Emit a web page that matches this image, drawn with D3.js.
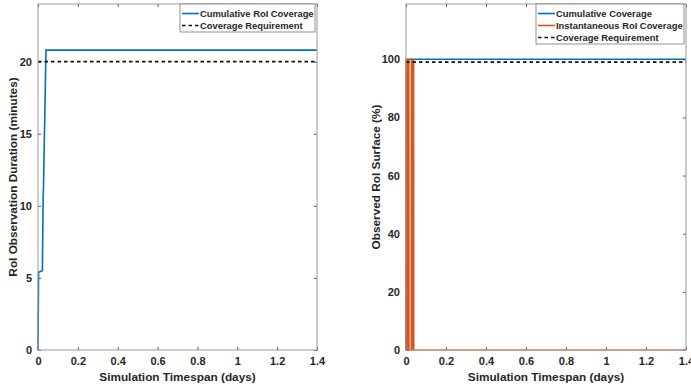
<!DOCTYPE html>
<html>
<head>
<meta charset="utf-8">
<script src="https://cdn.jsdelivr.net/npm/d3@7"></script>
<style>
  body { margin: 0; background: #fff; }
  text { font-family: "Liberation Sans", Arial, sans-serif; font-weight: bold; fill: #262626; }
</style>
</head>
<body>
<div id="chart"></div>
<script>
// ---- data ----
var xTicks = [0, 0.2, 0.4, 0.6, 0.8, 1, 1.2, 1.4];
var leftYTicks = [0, 5, 10, 15, 20];
var rightYTicks = [0, 20, 40, 60, 80, 100];

// left: cumulative RoI observation (minutes)
var cumTime = [0, 0.003, 0.022, 0.026, 0.027, 0.040, 1.4];
var cumMinutes = [0, 5.4, 5.5, 10.8, 10.9, 20.8, 20.8];
var reqMinutes = 20;

// right: coverage (%)
var covTime = [0, 0.003, 1.4];
var covCumulative = [0, 100, 100];
var instTime = [0, 0.0005, 0.015, 0.0155, 0.0255, 0.026, 0.039, 0.0395, 1.4];
var instCoverage = [0, 100, 100, 0, 0, 100, 100, 0, 0];
var reqPercent = 99;

var blue = "#0072BD", orange = "#D95319";

var svg = d3.select("#chart").append("svg")
  .attr("width", 691)
  .attr("height", 389);

function zip(a, b) { return a.map(function(d, i) { return [d, b[i]]; }); }

function panel(opt) {
  var x = d3.scaleLinear().domain([0, 1.4]).range([opt.left, opt.right]);
  var y = d3.scaleLinear().domain([0, opt.ymax]).range([350, 4]);
  var g = svg.append("g");

  // bottom / top axes (ticks inside)
  g.append("g").attr("transform", "translate(0,350)")
    .call(d3.axisBottom(x).tickValues(xTicks).tickSize(-3).tickPadding(7).tickFormat(d3.format("")))
    .call(function(a) { a.select(".domain").remove(); a.selectAll("line").attr("stroke", "#555"); a.selectAll("text").style("font-size", "11px"); });
  g.append("g").attr("transform", "translate(0,4)")
    .call(d3.axisTop(x).tickValues(xTicks).tickSize(-3).tickFormat(""))
    .call(function(a) { a.select(".domain").remove(); a.selectAll("line").attr("stroke", "#555"); });
  g.append("g").attr("transform", "translate(" + opt.left + ",0)")
    .call(d3.axisLeft(y).tickValues(opt.yTicks).tickSize(-3).tickPadding(6))
    .call(function(a) { a.select(".domain").remove(); a.selectAll("line").attr("stroke", "#555"); a.selectAll("text").style("font-size", "11px"); });
  g.append("g").attr("transform", "translate(" + opt.right + ",0)")
    .call(d3.axisRight(y).tickValues(opt.yTicks).tickSize(-3).tickFormat(""))
    .call(function(a) { a.select(".domain").remove(); a.selectAll("line").attr("stroke", "#555"); });

  var line = d3.line().x(function(d) { return x(d[0]); }).y(function(d) { return y(d[1]); });

  opt.series.forEach(function(s) {
    if (s.fill) {
      g.append("path").datum(s.data)
        .attr("fill", s.color).attr("stroke", s.color).attr("stroke-width", 1.2)
        .attr("d", d3.area().x(function(d) { return x(d[0]); }).y0(y(0)).y1(function(d) { return y(d[1]); }));
    } else {
      g.append("path").datum(s.data)
        .attr("fill", "none").attr("stroke", s.color).attr("stroke-width", 1.6)
        .attr("stroke-dasharray", s.dash || null)
        .attr("d", line);
    }
  });

  // box
  g.append("rect").attr("x", opt.left).attr("y", 4)
    .attr("width", opt.right - opt.left).attr("height", 346)
    .attr("fill", "none").attr("stroke", "#9a9a9a").attr("stroke-width", 1);

  // labels
  g.append("text").attr("x", (opt.left + opt.right) / 2).attr("y", 381)
    .attr("text-anchor", "middle").style("font-size", "11.8px").text("Simulation Timespan (days)");
  g.append("text").attr("transform", "translate(" + opt.ylabX + ",177) rotate(-90)")
    .attr("text-anchor", "middle").style("font-size", "11.8px").text(opt.ylabel);

  // legend
  var L = opt.legend;
  var lg = g.append("g");
  lg.append("rect").attr("x", L.x).attr("y", 4).attr("width", opt.right - 2 - L.x)
    .attr("height", L.items.length * 12 + 4)
    .attr("fill", "#fff").attr("stroke", "#777").attr("stroke-width", 0.8);
  L.items.forEach(function(it, i) {
    var yy = 13.5 + i * 12;
    lg.append("line").attr("x1", L.x + 2).attr("x2", L.x + 19).attr("y1", yy).attr("y2", yy)
      .attr("stroke", it.color).attr("stroke-width", 1.6).attr("stroke-dasharray", it.dash || null);
    lg.append("text").attr("x", L.x + 20).attr("y", yy + 3.5).style("font-size", "9.4px").text(it.name);
  });
}

panel({
  left: 38, right: 317, ymax: 24, yTicks: leftYTicks, ylabX: 17,
  ylabel: "RoI Observation Duration (minutes)",
  series: [
    { data: zip(cumTime, cumMinutes), color: blue },
    { data: [[0, reqMinutes], [1.4, reqMinutes]], color: "#111", dash: "3.5,3" }
  ],
  legend: { x: 180, items: [
    { name: "Cumulative RoI Coverage", color: blue },
    { name: "Coverage Requirement", color: "#111", dash: "3.5,3" }
  ] }
});

panel({
  left: 406, right: 686, ymax: 119, yTicks: rightYTicks, ylabX: 380,
  ylabel: "Observed RoI Surface (%)",
  series: [
    { data: zip(covTime, covCumulative), color: blue },
    { data: zip(instTime, instCoverage), color: orange, fill: true },
    { data: [[0, reqPercent], [1.4, reqPercent]], color: "#111", dash: "3.5,3" }
  ],
  legend: { x: 536, items: [
    { name: "Cumulative Coverage", color: blue },
    { name: "Instantaneous RoI Coverage", color: orange },
    { name: "Coverage Requirement", color: "#111", dash: "3.5,3" }
  ] }
});
</script>
</body>
</html>
